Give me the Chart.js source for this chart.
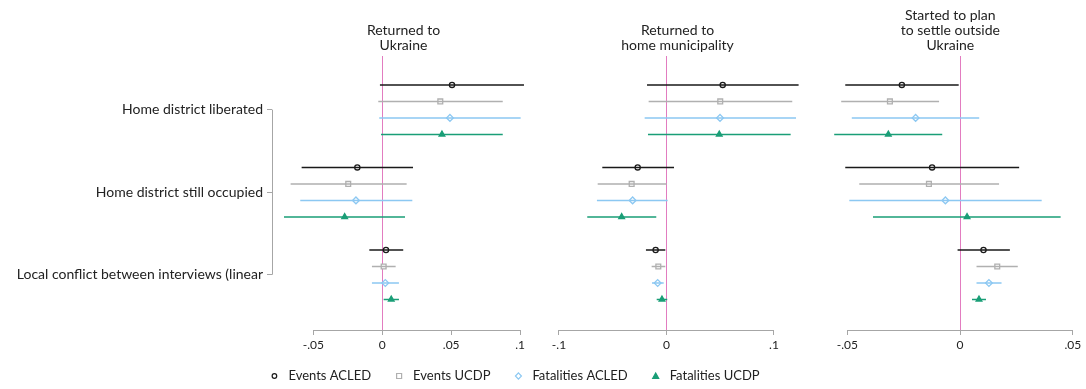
<!DOCTYPE html>
<html>
<head>
<meta charset="utf-8">
<script src="https://cdn.jsdelivr.net/npm/chart.js@4.4.1/dist/chart.umd.min.js"></script>
<style>
  body { margin: 0; background: #fff; }
  #wrap { position: relative; width: 1086px; height: 389px; }
  #wrap canvas { position: absolute; left: 0; top: 0; }
</style>
</head>
<body>
<div id="wrap">
  <canvas id="p1" width="1086" height="389"></canvas>
  <canvas id="p2" width="1086" height="389"></canvas>
  <canvas id="p3" width="1086" height="389"></canvas>
</div>
<script>
const categories = ["Home district liberated", "Home district still occupied", "Local conflict between interviews (linear"];
const seriesNames = ["Events ACLED", "Events UCDP", "Fatalities ACLED", "Fatalities UCDP"];
const seriesOffsets = [-0.3, -0.1, 0.1, 0.3];

// Returned to Ukraine  (rows = series, cols = categories)
const ukrCoef  = [[0.0506, -0.0181, 0.0027], [0.0421, -0.0247, 0.0010], [0.0491, -0.0191, 0.0022], [0.0433, -0.0273, 0.0065]];
const ukrLower = [[-0.0017, -0.0585, -0.0094], [-0.0029, -0.0665, -0.0075], [-0.0022, -0.0595, -0.0075], [-0.0009, -0.0713, 0.0010]];
const ukrUpper = [[0.1028, 0.0223, 0.0152], [0.0874, 0.0177, 0.0097], [0.1004, 0.0218, 0.0121], [0.0874, 0.0165, 0.0121]];

// Returned to home municipality
const munCoef  = [[0.0523, -0.0268, -0.0101], [0.0500, -0.0324, -0.0076], [0.0498, -0.0315, -0.0082], [0.0491, -0.0417, -0.0042]];
const munLower = [[-0.0181, -0.0597, -0.0191], [-0.0166, -0.0640, -0.0138], [-0.0203, -0.0647, -0.0135], [-0.0172, -0.0737, -0.0091]];
const munUpper = [[0.1229, 0.0070, -0.0011], [0.1170, 0.0002, -0.0011], [0.1205, 0.0011, -0.0026], [0.1155, -0.0095, 0.0007]];

// Started to plan to settle outside Ukraine
const abrCoef  = [[-0.0258, -0.0124, 0.0104], [-0.0311, -0.0138, 0.0165], [-0.0197, -0.0065, 0.0128], [-0.0318, 0.0031, 0.0084]];
const abrLower = [[-0.0509, -0.0509, -0.0011], [-0.0527, -0.0447, 0.0073], [-0.0480, -0.0491, 0.0073], [-0.0558, -0.0386, 0.0053]];
const abrUpper = [[-0.0006, 0.0262, 0.0221], [-0.0093, 0.0173, 0.0256], [0.0085, 0.0362, 0.0184], [-0.0079, 0.0446, 0.0115]];

const ukrTicks = [-0.05, 0, 0.05, 0.1];
const munTicks = [-0.1, 0, 0.1];
const abrTicks = [-0.05, 0, 0.05];

const colors = ["#1a1a1a", "#b0b0b0", "#8cc8f2", "#1a9e77"];
const styles = ["circle", "rect", "rectRot", "triangle"];
const fills = ["#fff", "#fff", "#fff", "#1a9e77"];
const radii = [2.6, 3.4, 3.4, 3.3];

const FONT = "Lato, 'Noto Sans', sans-serif";
const AXIS_COLOR = "#a6a6a6";
const ZERO_COLOR = "#e27cc0";

function fmt(v) {
  if (v === 0) return "0";
  let s = String(Math.round(v * 1000) / 1000);
  return s.replace("0.", ".");
}

function buildDatasets(coef, lower, upper) {
  const ds = [];
  for (let s = 0; s < 4; s++) {
    const bars = [];
    for (let c = 0; c < categories.length; c++) {
      const y = c + seriesOffsets[s];
      bars.push({ x: lower[s][c], y: y }, { x: upper[s][c], y: y }, { x: null, y: null });
    }
    ds.push({
      data: bars, showLine: true, spanGaps: false, borderColor: colors[s],
      borderWidth: 1.5, pointRadius: 0, clip: false
    });
  }
  for (let s = 0; s < 4; s++) {
    ds.push({
      data: coef[s].map((v, c) => ({ x: v, y: c + seriesOffsets[s] })),
      pointStyle: styles[s], pointRadius: radii[s], borderColor: colors[s],
      backgroundColor: fills[s], pointBorderWidth: 1.3, clip: false
    });
  }
  return ds;
}

// zero line, partial axis lines, titles, legend
const decor = {
  id: "decor",
  beforeDatasetsDraw(chart, args, o) {
    const { ctx, chartArea } = chart;
    const x0 = chart.scales.x.getPixelForValue(0);
    ctx.save();
    ctx.strokeStyle = ZERO_COLOR;
    ctx.lineWidth = 1;
    ctx.beginPath();
    ctx.moveTo(Math.round(x0) + 0.5, chartArea.top);
    ctx.lineTo(Math.round(x0) + 0.5, chartArea.bottom);
    ctx.stroke();
    ctx.restore();
  },
  afterDraw(chart, args, o) {
    const { ctx, chartArea } = chart;
    const xs = chart.scales.x;
    ctx.save();
    ctx.strokeStyle = AXIS_COLOR;
    ctx.lineWidth = 1;
    ctx.beginPath();
    const yb = Math.round(chartArea.bottom) + 0.5;
    ctx.moveTo(xs.getPixelForValue(o.ticks[0]), yb);
    ctx.lineTo(xs.getPixelForValue(o.ticks[o.ticks.length - 1]), yb);
    ctx.stroke();
    if (o.yAxis) {
      const ys = chart.scales.y;
      const xl = Math.round(chartArea.left) + 0.5;
      ctx.beginPath();
      ctx.moveTo(xl, ys.getPixelForValue(0));
      ctx.lineTo(xl, ys.getPixelForValue(categories.length - 1));
      ctx.stroke();
    }
    // title
    ctx.fillStyle = "#222";
    ctx.font = "14px " + FONT;
    ctx.textAlign = "center";
    ctx.textBaseline = "middle";
    const cx = (chartArea.left + chartArea.right) / 2;
    const n = o.title.length;
    o.title.forEach((line, i) => ctx.fillText(line, cx, 45 - 15 * (n - 1 - i)));
    // legend
    if (o.legend) {
      ctx.font = "13px " + FONT;
      ctx.textAlign = "left";
      const gapMark = 14, gapItem = 28;
      const widths = seriesNames.map(t => ctx.measureText(t).width);
      let total = 0;
      widths.forEach(w => total += gapMark + w);
      total += gapItem * (seriesNames.length - 1);
      let x = 514 - total / 2 + 3;
      const y = 376;
      seriesNames.forEach((name, s) => {
        ctx.strokeStyle = colors[s];
        ctx.fillStyle = fills[s];
        ctx.lineWidth = 1.2;
        ctx.beginPath();
        if (s === 0) ctx.arc(x, y, 2.3, 0, Math.PI * 2);
        else if (s === 1) ctx.rect(x - 2.5, y - 2.5, 5, 5);
        else if (s === 2) { ctx.moveTo(x, y - 3.2); ctx.lineTo(x + 3, y); ctx.lineTo(x, y + 3.2); ctx.lineTo(x - 3, y); ctx.closePath(); }
        else { ctx.moveTo(x, y - 3); ctx.lineTo(x + 3, y + 2.5); ctx.lineTo(x - 3, y + 2.5); ctx.closePath(); }
        ctx.fill();
        ctx.stroke();
        ctx.fillStyle = "#222";
        ctx.fillText(name, x + gapMark, y);
        x += gapMark + widths[s] + gapItem;
      });
    }
    ctx.restore();
  }
};

function makePanel(id, coef, lower, upper, ticks, range, pad, title, first) {
  new Chart(document.getElementById(id), {
    type: "scatter",
    data: { datasets: buildDatasets(coef, lower, upper) },
    plugins: [decor],
    options: {
      responsive: false,
      animation: false,
      events: [],
      layout: { padding: pad },
      plugins: {
        legend: { display: false },
        tooltip: { enabled: false },
        decor: { ticks: ticks, title: title, yAxis: first, legend: first }
      },
      scales: {
        x: {
          type: "linear", min: range[0], max: range[1],
          afterBuildTicks: s => { s.ticks = ticks.map(v => ({ value: v })); },
          afterFit: s => { s.height = 30; },
          ticks: { callback: v => fmt(v), color: "#222", font: { size: 12, family: FONT }, padding: 3, maxRotation: 0, autoSkip: false },
          grid: { drawOnChartArea: false, tickLength: 5, color: AXIS_COLOR },
          border: { display: false }
        },
        y: {
          type: "linear", reverse: true, min: -0.65, max: 2.67,
          display: first,
          afterBuildTicks: s => { s.ticks = categories.map((c, i) => ({ value: i })); },
          afterFit: s => { s.width = first ? 272 : 0; },
          ticks: { callback: v => categories[v], color: "#222", font: { size: 14, family: FONT }, padding: 4, autoSkip: false },
          grid: { drawOnChartArea: false, tickLength: 5, color: AXIS_COLOR },
          border: { display: false }
        }
      }
    }
  });
}

makePanel("p1", ukrCoef, ukrLower, ukrUpper, ukrTicks, [-0.08, 0.1108],
  { left: 0, right: 551, top: 56, bottom: 29 }, ["Returned to", "Ukraine"], true);
makePanel("p2", munCoef, munLower, munUpper, munTicks, [-0.113, 0.1335],
  { left: 545, right: 276, top: 56, bottom: 29 }, ["Returned to", "home municipality"], false);
makePanel("p3", abrCoef, abrLower, abrUpper, abrTicks, [-0.0621, 0.0535],
  { left: 820, right: 4, top: 56, bottom: 29 }, ["Started to plan", "to settle outside", "Ukraine"], false);
</script>
</body>
</html>
